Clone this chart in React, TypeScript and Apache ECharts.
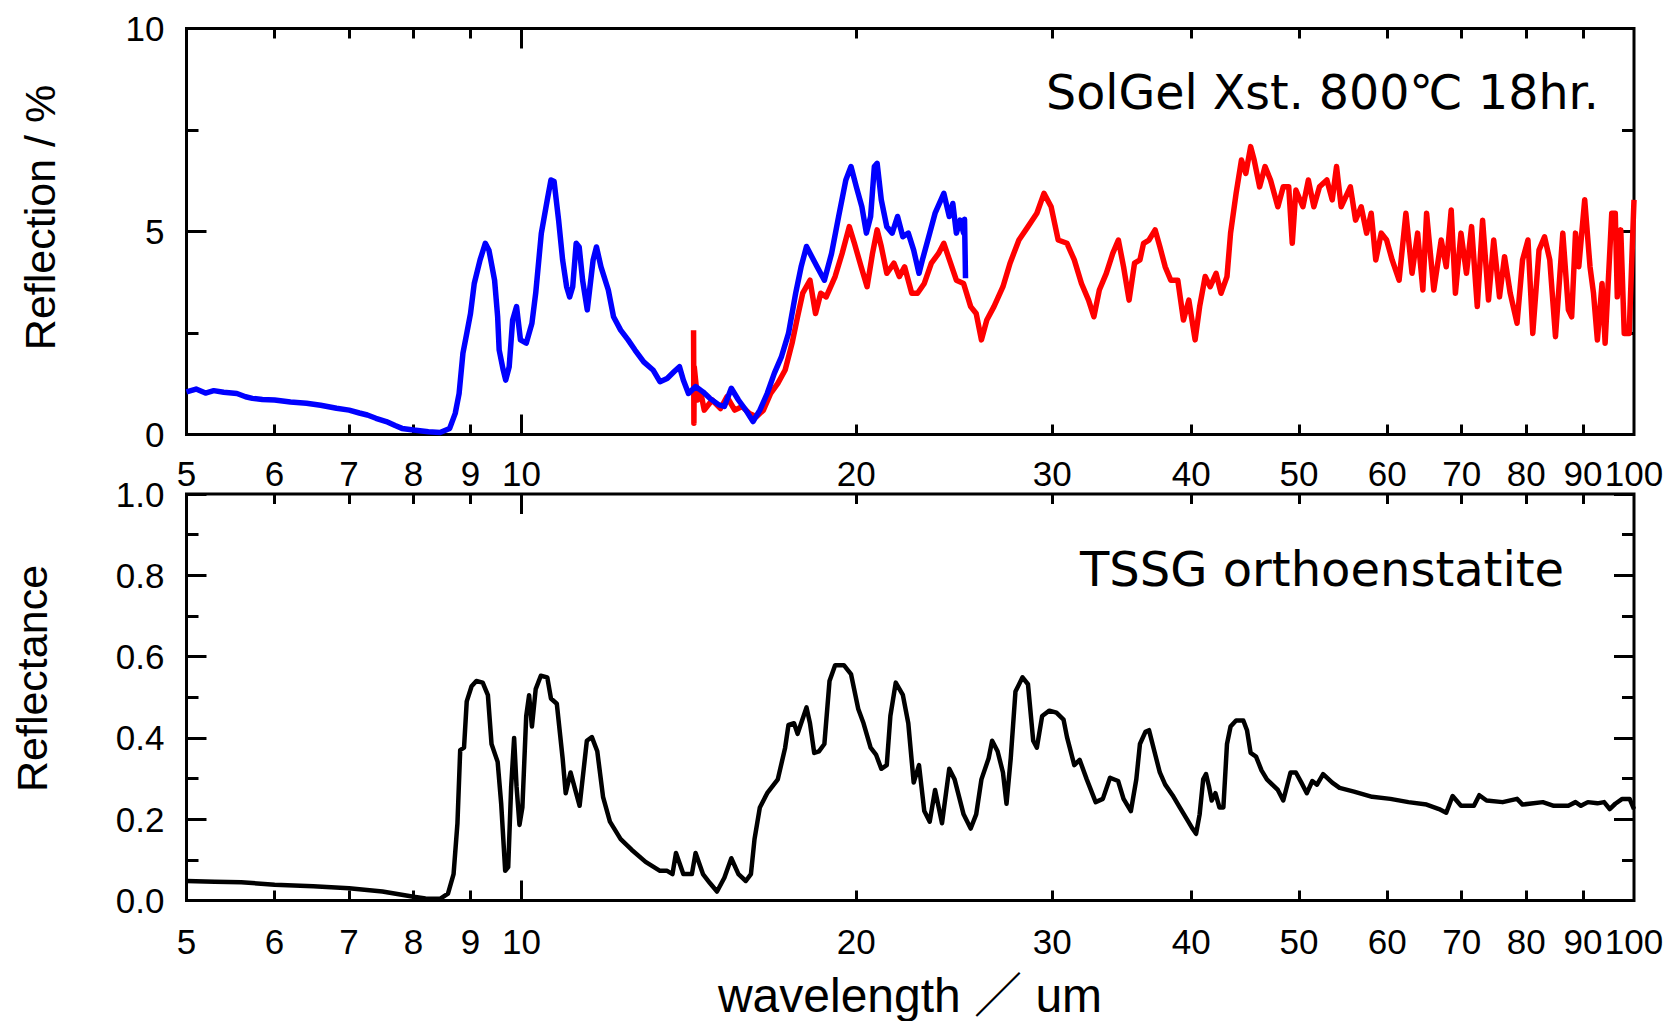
import React, { useEffect, useRef } from 'react';
import * as echarts from 'echarts';

// ---------- tick values ----------
const xTickLabels = [5, 6, 7, 8, 9, 10, 20, 30, 40, 50, 60, 70, 80, 90, 100];
const xMinorTicks = [6, 7, 8, 9, 20, 30, 40, 50, 60, 70, 80, 90];
const xMajorTicks = [10];

// ---------- texts ----------
const TOP_Y_TITLE = 'Reflection / %';
const BOTTOM_Y_TITLE = 'Reflectance';
const X_TITLE = 'wavelength ／ um';
const TOP_NOTE = 'SolGel Xst. 800℃ 18hr.';
const BOTTOM_NOTE = 'TSSG orthoenstatite';

// ---------- data: [wavelength (um), reflection (%)] ----------
const solgelBlue: [number, number][] = [
  [5.0, 1.05], [5.1, 1.12], [5.2, 1.02], [5.29, 1.08], [5.4, 1.04], [5.55, 1.01], [5.65, 0.93], [5.73, 0.89],
  [5.85, 0.86], [6.0, 0.85], [6.2, 0.8], [6.41, 0.77], [6.6, 0.72], [6.82, 0.645], [7.0, 0.6], [7.15, 0.53],
  [7.27, 0.48], [7.4, 0.4], [7.56, 0.32], [7.7, 0.22], [7.81, 0.15], [8.0, 0.11], [8.25, 0.07], [8.45, 0.05],
  [8.62, 0.15], [8.72, 0.52], [8.79, 1.01], [8.86, 2.0], [8.93, 2.49], [9.0, 2.98], [9.07, 3.72], [9.18, 4.3],
  [9.28, 4.71], [9.35, 4.54], [9.46, 3.8], [9.52, 2.9], [9.55, 2.08], [9.63, 1.59], [9.68, 1.34], [9.75, 1.67],
  [9.82, 2.82], [9.9, 3.15], [9.98, 2.33], [10.1, 2.25], [10.22, 2.74], [10.3, 3.48], [10.42, 4.95], [10.55, 5.78],
  [10.63, 6.27], [10.7, 6.23], [10.8, 5.28], [10.89, 4.3], [10.98, 3.64], [11.05, 3.39], [11.12, 3.64], [11.2, 4.71],
  [11.27, 4.62], [11.35, 3.8], [11.46, 3.07], [11.6, 4.3], [11.68, 4.62], [11.79, 4.13], [11.97, 3.56], [12.1, 2.9],
  [12.28, 2.57], [12.47, 2.33], [12.65, 2.08], [12.88, 1.79], [13.13, 1.59], [13.32, 1.3], [13.52, 1.38], [13.72, 1.55],
  [13.87, 1.67], [13.98, 1.34], [14.13, 1.01], [14.34, 1.18], [14.56, 1.05], [14.77, 0.89], [15.05, 0.73], [15.22, 0.69],
  [15.44, 1.14], [15.67, 0.85], [15.91, 0.6], [16.15, 0.32], [16.38, 0.6], [16.63, 1.01], [16.88, 1.51], [17.13, 1.92],
  [17.38, 2.49], [17.64, 3.48], [17.84, 4.13], [18.04, 4.63], [18.24, 4.38], [18.44, 4.13], [18.72, 3.8], [19.0, 4.46],
  [19.28, 5.37], [19.57, 6.27], [19.78, 6.6], [20.0, 6.1], [20.23, 5.61], [20.42, 4.96], [20.6, 5.37], [20.76, 6.6],
  [20.88, 6.68], [21.06, 5.78], [21.3, 5.12], [21.54, 4.96], [21.78, 5.37], [22.02, 4.87], [22.27, 4.96], [22.52, 4.54],
  [22.77, 3.97], [22.93, 4.3], [23.19, 4.79], [23.54, 5.45], [23.97, 5.94], [24.24, 5.37], [24.42, 5.69], [24.6, 4.96],
  [24.79, 5.28], [24.97, 4.96], [25.02, 5.3], [25.07, 3.85],
];

const solgelRed: [number, number][] = [
  [14.28, 2.57], [14.29, 0.28], [14.3, 1.67], [14.4, 0.85], [14.5, 1.01], [14.6, 0.6], [14.84, 0.85], [15.1, 0.64],
  [15.3, 0.93], [15.55, 0.6], [15.79, 0.69], [16.03, 0.52], [16.27, 0.44], [16.5, 0.6], [16.75, 1.01], [17.0, 1.26],
  [17.26, 1.59], [17.51, 2.25], [17.71, 2.9], [17.9, 3.48], [18.17, 3.8], [18.38, 2.98], [18.58, 3.48], [18.79, 3.39],
  [19.14, 3.89], [19.42, 4.46], [19.71, 5.12], [19.92, 4.71], [20.2, 4.13], [20.45, 3.64], [20.68, 4.46], [20.88, 5.04],
  [21.06, 4.63], [21.3, 3.97], [21.62, 4.22], [21.86, 3.89], [22.1, 4.13], [22.43, 3.48], [22.7, 3.48], [23.02, 3.72],
  [23.36, 4.22], [23.71, 4.46], [23.97, 4.71], [24.25, 4.3], [24.6, 3.8], [24.97, 3.72], [25.34, 3.15], [25.63, 2.98],
  [25.91, 2.33], [26.2, 2.82], [26.59, 3.15], [27.09, 3.64], [27.49, 4.22], [28.0, 4.79], [28.53, 5.12], [29.06, 5.45],
  [29.49, 5.94], [29.93, 5.61], [30.37, 4.79], [30.93, 4.71], [31.4, 4.3], [31.87, 3.72], [32.34, 3.31], [32.7, 2.9],
  [33.07, 3.56], [33.55, 3.97], [34.0, 4.46], [34.4, 4.79], [34.77, 4.13], [35.17, 3.31], [35.57, 4.22], [35.97, 4.3],
  [36.24, 4.71], [36.65, 4.79], [37.12, 5.04], [37.48, 4.63], [37.9, 4.13], [38.34, 3.8], [38.9, 3.8], [39.36, 2.82],
  [39.8, 3.31], [40.32, 2.33], [40.7, 3.15], [41.17, 3.89], [41.6, 3.64], [42.11, 3.97], [42.54, 3.48], [43.07, 3.89],
  [43.39, 4.96], [43.89, 5.94], [44.38, 6.76], [44.78, 6.43], [45.23, 7.09], [45.56, 6.76], [46.08, 6.1], [46.6, 6.6],
  [47.13, 6.27], [47.85, 5.61], [48.39, 6.1], [48.94, 6.1], [49.3, 4.71], [49.67, 6.02], [50.4, 5.61], [50.97, 6.27],
  [51.55, 5.61], [52.16, 6.1], [52.96, 6.27], [53.55, 5.78], [54.03, 6.6], [54.55, 5.61], [55.6, 6.1], [56.2, 5.28],
  [56.86, 5.61], [57.5, 4.96], [58.05, 5.45], [58.6, 4.3], [59.27, 4.96], [59.93, 4.79], [60.62, 4.3], [61.5, 3.8],
  [62.37, 5.45], [63.17, 3.97], [63.9, 4.96], [64.6, 3.56], [65.1, 5.45], [66.08, 3.56], [67.1, 4.79], [67.8, 4.13],
  [68.5, 5.53], [69.1, 3.48], [69.9, 4.96], [70.7, 3.97], [71.45, 5.12], [72.3, 3.15], [73.1, 5.28], [74.0, 3.31],
  [74.8, 4.79], [75.7, 3.39], [76.5, 4.38], [77.4, 3.48], [78.5, 2.74], [79.4, 4.3], [80.3, 4.79], [81.1, 2.49],
  [82.15, 4.54], [83.1, 4.87], [84.0, 4.3], [85.0, 2.41], [86.3, 4.96], [87.3, 3.07], [87.9, 2.9], [88.6, 4.96],
  [89.2, 4.13], [90.3, 5.78], [91.3, 4.13], [91.96, 3.48], [92.7, 2.33], [93.6, 3.72], [94.2, 2.25], [95.5, 5.45],
  [96.2, 5.45], [96.6, 3.39], [97.3, 5.04], [98.0, 2.49], [99.0, 2.49], [100, 5.78],
];

// ---------- data: [wavelength (um), reflectance] ----------
const tssgBlack: [number, number][] = [
  [5.0, 0.048], [5.3, 0.046], [5.6, 0.045], [6.0, 0.039], [6.5, 0.035], [7.0, 0.03], [7.5, 0.022], [8.0, 0.009],
  [8.2, 0.005], [8.45, 0.004], [8.59, 0.017], [8.69, 0.065], [8.76, 0.19], [8.81, 0.37], [8.88, 0.376], [8.93, 0.49],
  [9.02, 0.527], [9.11, 0.54], [9.23, 0.536], [9.33, 0.505], [9.4, 0.385], [9.52, 0.341], [9.59, 0.238], [9.67, 0.073],
  [9.73, 0.082], [9.79, 0.28], [9.85, 0.4], [9.9, 0.28], [9.96, 0.186], [10.02, 0.229], [10.1, 0.454], [10.16, 0.505],
  [10.22, 0.428], [10.3, 0.52], [10.41, 0.553], [10.55, 0.549], [10.63, 0.497], [10.76, 0.484], [10.89, 0.35], [10.96, 0.264],
  [11.07, 0.315], [11.28, 0.233], [11.45, 0.393], [11.57, 0.402], [11.7, 0.367], [11.84, 0.255], [12.01, 0.194], [12.28, 0.151],
  [12.56, 0.125], [12.93, 0.095], [13.32, 0.073], [13.52, 0.073], [13.67, 0.065], [13.77, 0.117], [13.98, 0.065], [14.23, 0.065],
  [14.34, 0.117], [14.56, 0.065], [14.77, 0.043], [14.99, 0.022], [15.22, 0.056], [15.44, 0.104], [15.67, 0.065], [15.91, 0.048],
  [16.08, 0.065], [16.2, 0.151], [16.38, 0.229], [16.63, 0.264], [17.0, 0.298], [17.26, 0.376], [17.38, 0.432], [17.58, 0.436],
  [17.71, 0.41], [18.04, 0.475], [18.17, 0.436], [18.33, 0.363], [18.51, 0.367], [18.72, 0.385], [18.92, 0.54], [19.14, 0.579],
  [19.49, 0.579], [19.78, 0.557], [20.08, 0.471], [20.3, 0.436], [20.6, 0.376], [20.83, 0.359], [21.06, 0.324], [21.3, 0.333],
  [21.46, 0.454], [21.7, 0.536], [22.02, 0.506], [22.27, 0.436], [22.52, 0.29], [22.77, 0.333], [23.02, 0.22], [23.28, 0.194],
  [23.54, 0.272], [23.88, 0.19], [24.24, 0.324], [24.51, 0.298], [24.97, 0.212], [25.34, 0.177], [25.63, 0.212], [25.91, 0.298],
  [26.3, 0.35], [26.49, 0.393], [26.79, 0.367], [27.09, 0.315], [27.29, 0.238], [27.53, 0.35], [27.8, 0.514], [28.21, 0.549],
  [28.53, 0.532], [28.84, 0.393], [29.06, 0.376], [29.38, 0.454], [29.82, 0.467], [30.26, 0.462], [30.71, 0.445], [30.93, 0.402],
  [31.4, 0.333], [31.75, 0.346], [32.22, 0.298], [32.82, 0.242], [33.31, 0.25], [33.81, 0.302], [34.38, 0.294], [34.77, 0.25],
  [35.3, 0.22], [35.7, 0.298], [35.97, 0.385], [36.38, 0.415], [36.65, 0.419], [37.06, 0.367], [37.48, 0.315], [37.9, 0.285],
  [38.48, 0.259], [39.06, 0.229], [39.66, 0.199], [40.1, 0.177], [40.4, 0.164], [40.7, 0.212], [41.0, 0.298], [41.24, 0.311],
  [41.49, 0.281], [41.73, 0.246], [42.05, 0.264], [42.4, 0.229], [42.75, 0.229], [43.07, 0.385], [43.39, 0.428], [43.89, 0.443],
  [44.55, 0.443], [44.89, 0.419], [45.23, 0.363], [45.74, 0.354], [46.26, 0.32], [46.78, 0.298], [47.85, 0.272], [48.39, 0.246],
  [48.76, 0.281], [49.12, 0.315], [49.67, 0.315], [50.24, 0.29], [50.81, 0.264], [51.39, 0.294], [51.89, 0.285], [52.55, 0.311],
  [53.55, 0.29], [54.37, 0.277], [56.02, 0.268], [58.16, 0.255], [60.4, 0.25], [62.7, 0.242], [65.1, 0.236], [66.8, 0.225],
  [67.8, 0.216], [68.7, 0.257], [69.9, 0.233], [71.8, 0.233], [72.6, 0.259], [73.7, 0.246], [76.2, 0.242], [78.5, 0.25],
  [79.4, 0.236], [82.8, 0.242], [84.7, 0.233], [87.3, 0.233], [88.6, 0.242], [89.6, 0.233], [90.9, 0.242], [92.7, 0.239],
  [94.0, 0.242], [95.1, 0.225], [96.2, 0.238], [97.6, 0.25], [99.1, 0.25], [100, 0.225],
];

const LABEL_FONT = '"Liberation Sans", Arial, "Noto Sans CJK JP", sans-serif';
const NOTE_FONT = '"DejaVu Sans", "Noto Sans CJK JP", sans-serif';
const TICK_STYLE = { color: '#000', width: 3 };

function makeXAxes(gridIndex: number, labelMargin: number) {
  const base: any = {
    gridIndex,
    type: 'log',
    logBase: 10,
    min: 5,
    max: 100,
    axisLine: { show: false, onZero: false },
    splitLine: { show: false },
    minorTick: { show: false },
    minorSplitLine: { show: false },
  };
  const minor = { show: true, inside: true, length: 10, lineStyle: TICK_STYLE, customValues: xMinorTicks };
  const major = { show: true, inside: true, length: 20, lineStyle: TICK_STYLE, customValues: xMajorTicks };
  return [
    {
      ...base,
      position: 'bottom',
      axisTick: minor,
      axisLabel: {
        show: true,
        customValues: xTickLabels,
        margin: labelMargin,
        fontSize: 35,
        fontFamily: LABEL_FONT,
        color: '#000',
        showMinLabel: true,
        showMaxLabel: true,
        hideOverlap: false,
        formatter: (v: number) => String(Math.round(v)),
      },
    },
    { ...base, position: 'bottom', axisTick: major, axisLabel: { show: false } },
    { ...base, position: 'top', axisTick: minor, axisLabel: { show: false } },
    { ...base, position: 'top', axisTick: major, axisLabel: { show: false } },
  ];
}

function makeYAxes(gridIndex: number, max: number, interval: number, fmt: (v: number) => string) {
  const base: any = {
    gridIndex,
    type: 'value',
    min: 0,
    max,
    interval,
    axisLine: { show: false, onZero: false },
    splitLine: { show: false },
    minorSplitLine: { show: false },
    axisTick: { show: true, inside: true, length: 20, lineStyle: TICK_STYLE },
    minorTick: { show: true, splitNumber: 2, length: 12, lineStyle: TICK_STYLE },
  };
  return [
    {
      ...base,
      position: 'left',
      axisLabel: { show: true, margin: 22, fontSize: 35, fontFamily: LABEL_FONT, color: '#000', formatter: fmt },
    },
    { ...base, position: 'right', axisLabel: { show: false } },
  ];
}

export default function App() {
  const ref = useRef<HTMLDivElement>(null);

  useEffect(() => {
    if (!ref.current) return;
    const chart = echarts.init(ref.current, null, { renderer: 'svg' });

    const gridBase = {
      show: true,
      borderColor: '#000',
      borderWidth: 3,
      backgroundColor: 'transparent',
      containLabel: false,
      outerBoundsMode: 'none',
    };

    const option: any = {
      animation: false,
      backgroundColor: '#fff',
      grid: [
        { ...gridBase, left: 186.5, top: 28.5, width: 1447.5, height: 406 },
        { ...gridBase, left: 186.5, top: 494, width: 1447.5, height: 406.5 },
      ],
      xAxis: [...makeXAxes(0, 21), ...makeXAxes(1, 23)],
      yAxis: [
        ...makeYAxes(0, 10, 5, (v: number) => String(v)),
        ...makeYAxes(1, 1, 0.2, (v: number) => v.toFixed(1)),
      ],
      series: [
        {
          type: 'line',
          name: 'SolGel red',
          xAxisIndex: 0,
          yAxisIndex: 0,
          data: solgelRed,
          showSymbol: false,
          symbol: 'none',
          lineStyle: { color: '#ff0000', width: 5.5, join: 'round' },
          itemStyle: { color: '#ff0000' },
        },
        {
          type: 'line',
          name: 'SolGel blue',
          xAxisIndex: 0,
          yAxisIndex: 0,
          data: solgelBlue,
          showSymbol: false,
          symbol: 'none',
          lineStyle: { color: '#0000ff', width: 5.5, join: 'round' },
          itemStyle: { color: '#0000ff' },
        },
        {
          type: 'line',
          name: 'TSSG',
          xAxisIndex: 4,
          yAxisIndex: 2,
          data: tssgBlack,
          showSymbol: false,
          symbol: 'none',
          lineStyle: { color: '#000000', width: 4.5, join: 'round' },
          itemStyle: { color: '#000000' },
        },
      ],
      graphic: [
        {
          type: 'text',
          x: 40,
          y: 217.5,
          rotation: Math.PI / 2,
          style: {
            text: TOP_Y_TITLE,
            fontSize: 43,
            fontFamily: LABEL_FONT,
            fill: '#000',
            align: 'center',
            verticalAlign: 'middle',
            textAlign: 'center',
            textVerticalAlign: 'middle',
          },
        },
        {
          type: 'text',
          x: 31.5,
          y: 678.5,
          rotation: Math.PI / 2,
          style: {
            text: BOTTOM_Y_TITLE,
            fontSize: 43,
            fontFamily: LABEL_FONT,
            fill: '#000',
            align: 'center',
            verticalAlign: 'middle',
            textAlign: 'center',
            textVerticalAlign: 'middle',
          },
        },
        {
          type: 'text',
          x: 910,
          y: 995,
          style: {
            text: X_TITLE,
            fontSize: 48,
            fontFamily: LABEL_FONT,
            fill: '#000',
            align: 'center',
            verticalAlign: 'middle',
            textAlign: 'center',
            textVerticalAlign: 'middle',
          },
        },
        {
          type: 'text',
          x: 1046,
          y: 92,
          style: {
            text: TOP_NOTE,
            fontSize: 47.5,
            fontFamily: NOTE_FONT,
            fill: '#000',
            align: 'left',
            verticalAlign: 'middle',
            textAlign: 'left',
            textVerticalAlign: 'middle',
          },
        },
        {
          type: 'text',
          x: 1080,
          y: 569,
          style: {
            text: BOTTOM_NOTE,
            fontSize: 48,
            fontFamily: NOTE_FONT,
            fill: '#000',
            align: 'left',
            verticalAlign: 'middle',
            textAlign: 'left',
            textVerticalAlign: 'middle',
          },
        },
      ],
    };

    chart.setOption(option);
    return () => chart.dispose();
  }, []);

  return (
    <div
      ref={ref}
      style={{ position: 'fixed', left: 0, top: 0, width: 1669, height: 1021, background: '#fff' }}
    />
  );
}
